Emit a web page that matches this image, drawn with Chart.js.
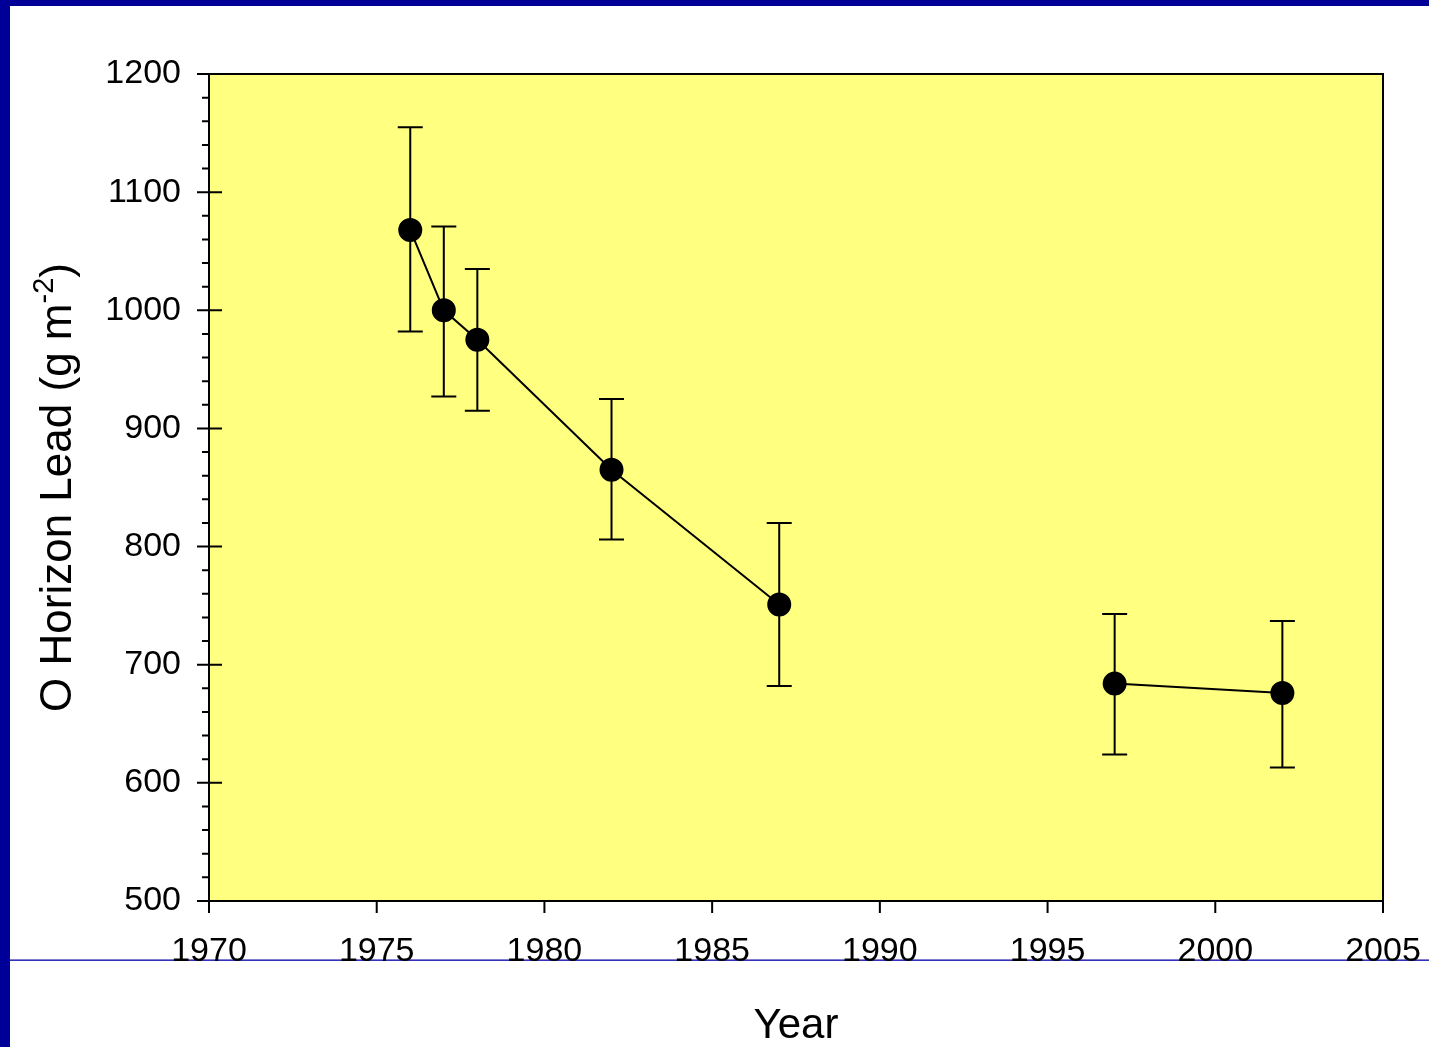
<!DOCTYPE html>
<html>
<head>
<meta charset="utf-8">
<script src="https://cdn.jsdelivr.net/npm/chart.js@4.4.1/dist/chart.umd.min.js"></script>
<style>
  html, body { margin: 0; padding: 0; background: #fff; }
  #wrap { width: 1429px; height: 1047px; position: relative; }
</style>
</head>
<body>
<div id="wrap"><canvas id="leadChart" width="1429" height="1047"></canvas></div>
<script>
// datos
const years = [1976, 1977, 1978, 1982, 1987, 1997, 2002];
const lead = [1068, 1000, 975, 865, 751, 684, 676];
const errHigh = [1155, 1071, 1035, 925, 820, 743, 737];
const errLow = [982, 927, 915, 806, 682, 624, 613];

const xTicks = [1970, 1975, 1980, 1985, 1990, 1995, 2000, 2005];
const yTicks = [500, 600, 700, 800, 900, 1000, 1100, 1200];

const FONT = "'Liberation Sans', Arial, sans-serif";

const points = years.map((y, i) => ({ x: y, y: lead[i] }));

// fondo, bordes azules, barras de error, ticks y titulos
const decorPlugin = {
    id: 'decor',
    beforeDraw(chart) {
        const { ctx, chartArea: a } = chart;
        ctx.save();
        ctx.fillStyle = '#ffffff';
        ctx.fillRect(0, 0, chart.width, chart.height);
        ctx.fillStyle = '#ffff80';
        ctx.fillRect(a.left, a.top, a.right - a.left, a.bottom - a.top);
        ctx.fillStyle = '#000099';
        ctx.fillRect(0, 0, 10, chart.height);
        ctx.fillRect(0, 0, chart.width, 6);
        ctx.fillStyle = '#0000aa';
        ctx.fillRect(10, 959.5, chart.width - 10, 1.3);
        ctx.restore();
    },
    beforeDatasetsDraw(chart) {
        const { ctx } = chart;
        const xs = chart.scales.x, ys = chart.scales.y;
        ctx.save();
        ctx.strokeStyle = '#000';
        ctx.lineWidth = 2;
        years.forEach((yr, i) => {
            const px = xs.getPixelForValue(yr);
            const top = ys.getPixelForValue(errHigh[i]);
            const bot = ys.getPixelForValue(errLow[i]);
            ctx.beginPath();
            ctx.moveTo(px, top); ctx.lineTo(px, bot);
            ctx.moveTo(px - 12.5, top); ctx.lineTo(px + 12.5, top);
            ctx.moveTo(px - 12.5, bot); ctx.lineTo(px + 12.5, bot);
            ctx.stroke();
        });
        ctx.restore();
    },
    afterDraw(chart) {
        const { ctx, chartArea: a } = chart;
        const xs = chart.scales.x, ys = chart.scales.y;
        ctx.save();
        ctx.strokeStyle = '#000';
        ctx.lineWidth = 2;
        ctx.strokeRect(a.left, a.top, a.right - a.left, a.bottom - a.top);
        ctx.beginPath();
        // ticks mayores y menores del eje y
        for (let v = 500; v <= 1200; v += 20) {
            const py = ys.getPixelForValue(v);
            if (v % 100 === 0) {
                ctx.moveTo(a.left - 12, py); ctx.lineTo(a.left + 13, py);
            } else {
                ctx.moveTo(a.left - 7, py); ctx.lineTo(a.left, py);
            }
        }
        xTicks.forEach(v => {
            const px = xs.getPixelForValue(v);
            ctx.moveTo(px, a.bottom); ctx.lineTo(px, a.bottom + 12);
        });
        ctx.stroke();

        // titulo eje x
        ctx.fillStyle = '#000';
        ctx.font = '42px ' + FONT;
        ctx.textAlign = 'center';
        ctx.textBaseline = 'alphabetic';
        ctx.fillText('Year', (a.left + a.right) / 2, 1038);

        // titulo eje y con superindice
        const main = 'O Horizon Lead (g m';
        const sup = '-2';
        const end = ')';
        ctx.translate(71, (a.top + a.bottom) / 2);
        ctx.rotate(-Math.PI / 2);
        ctx.textAlign = 'left';
        ctx.font = '44px ' + FONT;
        const w1 = ctx.measureText(main).width;
        const w3 = ctx.measureText(end).width;
        ctx.font = '29px ' + FONT;
        const w2 = ctx.measureText(sup).width;
        let x0 = -(w1 + w2 + w3) / 2;
        ctx.font = '44px ' + FONT;
        ctx.fillText(main, x0, 0);
        ctx.font = '29px ' + FONT;
        ctx.fillText(sup, x0 + w1, -18);
        ctx.font = '44px ' + FONT;
        ctx.fillText(end, x0 + w1 + w2, 0);
        ctx.restore();
    }
};

new Chart(document.getElementById('leadChart').getContext('2d'), {
    type: 'line',
    data: {
        datasets: [{
            label: 'O Horizon Lead',
            data: points,
            borderColor: '#000',
            borderWidth: 2,
            pointRadius: 11,
            pointHoverRadius: 11,
            pointBackgroundColor: '#000',
            pointBorderColor: '#000',
            tension: 0,
            segment: {
                // sin linea entre 1987 y 1997
                borderColor: c => (c.p1.parsed.x - c.p0.parsed.x > 6 ? 'rgba(0,0,0,0)' : '#000')
            }
        }]
    },
    options: {
        responsive: false,
        animation: false,
        events: [],
        layout: { padding: { left: 0, top: 74, right: 46, bottom: 0 } },
        plugins: { legend: { display: false }, tooltip: { enabled: false } },
        scales: {
            x: {
                type: 'linear',
                min: 1970,
                max: 2005,
                afterFit: s => { s.height = 146; s.paddingLeft = 0; s.paddingRight = 0; },
                afterBuildTicks: s => { s.ticks = xTicks.map(v => ({ value: v })); },
                grid: { display: false, drawTicks: false },
                border: { display: false },
                ticks: {
                    padding: 30,
                    color: '#000',
                    font: { family: FONT, size: 34 },
                    maxRotation: 0,
                    autoSkip: false,
                    callback: v => String(v)
                }
            },
            y: {
                type: 'linear',
                min: 500,
                max: 1200,
                afterFit: s => { s.width = 209; s.paddingTop = 0; s.paddingBottom = 0; },
                afterBuildTicks: s => { s.ticks = yTicks.map(v => ({ value: v })); },
                grid: { display: false, drawTicks: false },
                border: { display: false },
                ticks: {
                    padding: 28,
                    color: '#000',
                    font: { family: FONT, size: 34 },
                    autoSkip: false,
                    callback: v => String(v)
                }
            }
        }
    },
    plugins: [decorPlugin]
});
</script>
</body>
</html>
